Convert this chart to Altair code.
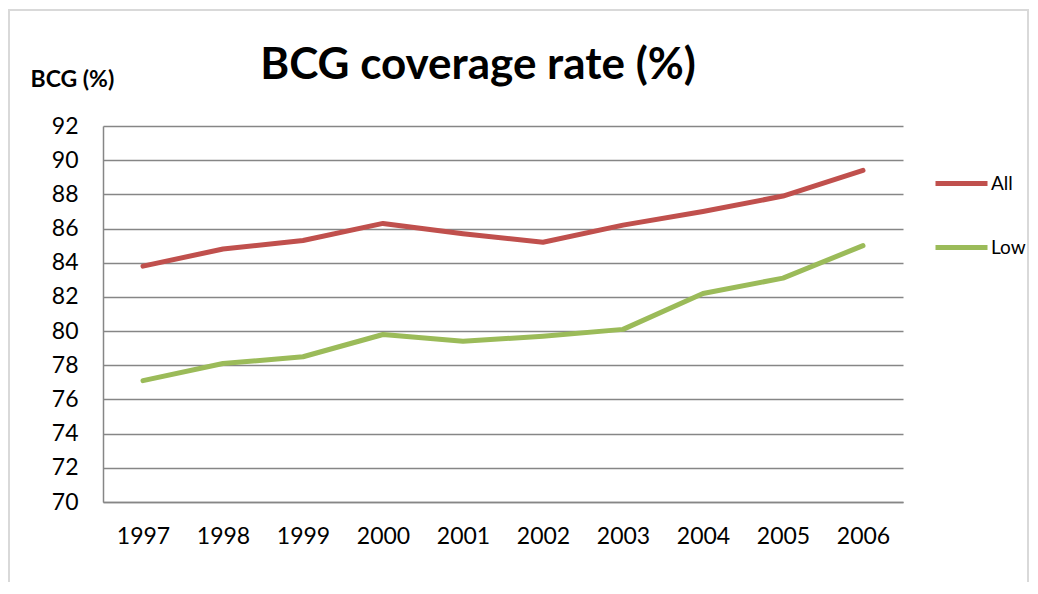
import altair as alt
import pandas as pd

years = ["1997", "1998", "1999", "2000", "2001", "2002", "2003", "2004", "2005", "2006"]
all_vals = [83.8, 84.8, 85.3, 86.3, 85.7, 85.2, 86.2, 87.0, 87.9, 89.4]
low_vals = [77.1, 78.1, 78.5, 79.8, 79.4, 79.7, 80.1, 82.2, 83.1, 85.0]
series_names = ["All", "Low"]
series_colors = ["#C0504D", "#9BBB59"]
y_ticks = [70, 72, 74, 76, 78, 80, 82, 84, 86, 88, 90, 92]
chart_title = "BCG coverage rate (%)"

rows = []
for y, a, l in zip(years, all_vals, low_vals):
    rows.append({"year": y, "series": "All", "value": a})
    rows.append({"year": y, "series": "Low", "value": l})
df = pd.DataFrame(rows)

FONT = "Lato"
W, H = 800, 376

frame = alt.Chart(pd.DataFrame({"d": [0]})).mark_rect(
    fill=None, stroke="#D9D9D9", strokeWidth=2
).encode(
    x=alt.value(-94), x2=alt.value(925),
    y=alt.value(-116), y2=alt.value(H + 120),
)

title = alt.Chart(pd.DataFrame({"t": [chart_title]})).mark_text(
    font=FONT, fontSize=44, fontWeight="bold", color="#000000",
    align="center", baseline="alphabetic"
).encode(text="t:N", x=alt.value(375), y=alt.value(-47))

lines = alt.Chart(df).mark_line(strokeWidth=5, strokeCap="round", strokeJoin="round").encode(
    x=alt.X("year:O", scale=alt.Scale(padding=0.5),
            axis=alt.Axis(title=None, labelAngle=0, ticks=False, labelPadding=23,
                          domainColor="#868686", domainWidth=1.5, grid=False)),
    y=alt.Y("value:Q", scale=alt.Scale(domain=[70, 92], nice=False, zero=False),
            axis=alt.Axis(values=y_ticks, title="BCG (%)", titleAngle=0,
                          titleX=-73, titleY=-40, titleAlign="left",
                          titleBaseline="alphabetic", titleFontSize=23,
                          titleFontWeight="bold", titleFont=FONT,
                          ticks=False, labelPadding=25,
                          domainColor="#868686", domainWidth=1.5,
                          gridColor="#868686", gridWidth=1.3)),
    color=alt.Color("series:N", scale=alt.Scale(domain=series_names, range=series_colors),
                    legend=alt.Legend(title=None, orient="none", legendX=830, legendY=29,
                                      symbolType="stroke", symbolSize=2704,
                                      symbolStrokeWidth=5, labelFontSize=19,
                                      labelFont=FONT, labelOffset=1, rowPadding=25,
                                      labelColor="#000000")),
)

chart = alt.layer(frame, title, lines).properties(
    width=W, height=H,
    autosize=alt.AutoSizeParams(type="none"),
    padding={"left": 95, "top": 118, "right": 127, "bottom": 80},
).configure_view(stroke=None).configure_axis(
    labelFont=FONT, labelFontSize=23, labelColor="#000000", titleColor="#000000"
)

chart.save("out.html", embed_options={"renderer": "svg", "actions": False})
